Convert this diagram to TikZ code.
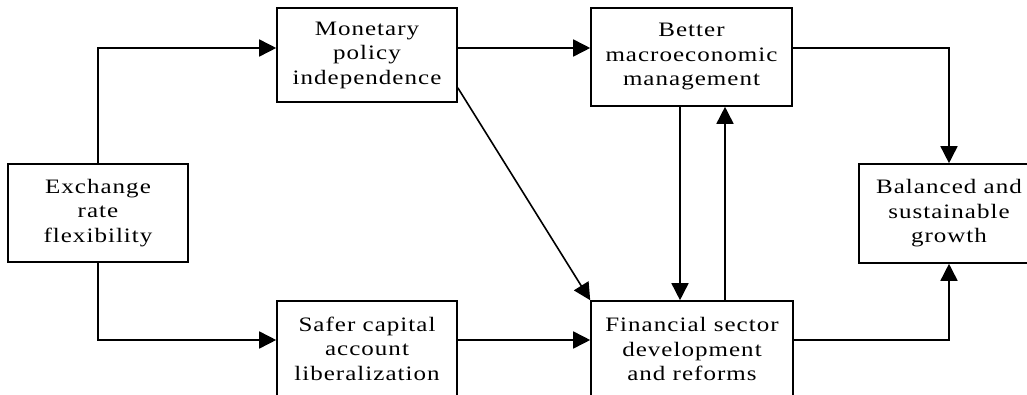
\documentclass[tikz,border=0pt]{standalone}
\usepackage{fontspec}
\setmainfont[FakeStretch=1.22,LetterSpace=5]{Liberation Serif}
\usetikzlibrary{arrows.meta}
\begin{document}
\begin{tikzpicture}[x=1pt,y=1pt,
  box/.style={draw, line width=1.6pt, inner sep=0pt, align=center,
    font=\fontsize{20.5}{24.5}\selectfont},
  arr/.style={line width=1.6pt, -{Triangle[length=17pt,width=17pt]}}]
\useasboundingbox (0,0) rectangle (1027,-395);
\clip (0,0) rectangle (1027,-395);

% boxes
\node[box, minimum width=180pt, minimum height=98pt] (ex) at (98,-213)
  {Exchange\\rate\\flexibility};
\node[box, minimum width=180pt, minimum height=94pt] (mon) at (367,-55)
  {Monetary\\policy\\independence};
\node[box, minimum width=201pt, minimum height=98pt] (bet) at (691.5,-57)
  {Better\\macroeconomic\\management};
\node[box, minimum width=180pt, minimum height=99pt] (bal) at (949,-213.5)
  {Balanced and\\sustainable\\growth};
\node[box, minimum width=180pt, minimum height=95pt] (saf) at (367,-348.5)
  {Safer capital\\account\\liberalization};
\node[box, minimum width=202pt, minimum height=96pt] (fin) at (692,-349)
  {Financial sector\\development\\and reforms};

% connectors
\draw[arr] (ex.north) |- ([yshift=7pt]mon.west);
\draw[arr] (ex.south) |- ([yshift=8.5pt]saf.west);
\draw[arr] ([yshift=7pt]mon.east) -- ([yshift=7pt]mon.east -| bet.west);
\draw[arr] ([yshift=15pt]mon.south east) -- (fin.north west);
\draw[arr] ([yshift=8.5pt]saf.east) -- ([yshift=8.5pt]saf.east -| fin.west);
\draw[arr] ([yshift=9pt]bet.east) -| (bal.north);
\draw[arr] ([yshift=9pt]fin.east) -| (bal.south);
\draw[arr] ([xshift=-11.5pt]bet.south) -- ([xshift=-11.5pt]bet.south |- fin.north);
\draw[arr] ([xshift=33pt]fin.north) -- ([xshift=33pt]fin.north |- bet.south);
\end{tikzpicture}
\end{document}
